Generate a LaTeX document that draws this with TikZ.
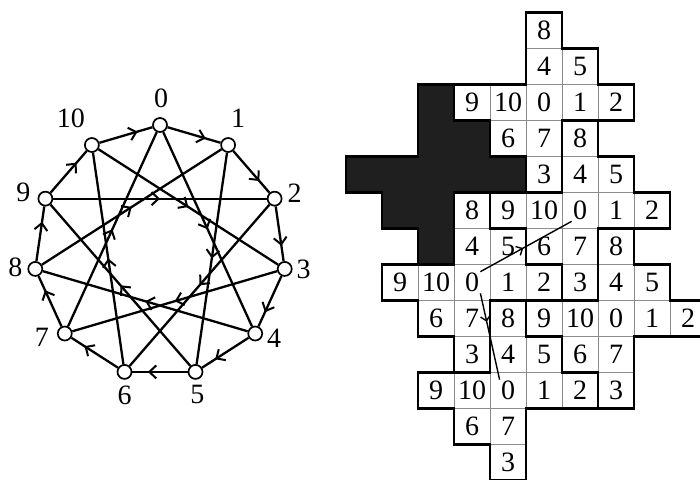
\documentclass[tikz,border=0pt]{standalone}
\usepackage{fontspec}
\setmainfont{Liberation Serif}
\usetikzlibrary{arrows.meta,decorations.markings}
\begin{document}
\begin{tikzpicture}[x=1pt,y=-1pt,
  vtx/.style={circle,draw=black,fill=white,line width=1.7pt,minimum size=14pt,inner sep=0pt},
  vlab/.style={font=\fontsize{28}{28}\selectfont,inner sep=0pt},
  glab/.style={font=\fontsize{28}{28}\selectfont,inner sep=1.2pt},
  midtip/.style={postaction={decorate},decoration={markings,mark=at position #1 with {\arrow{Straight Barb[length=7pt,width=13pt,line width=2pt]}}}},
  smalltip/.style={postaction={decorate},decoration={markings,mark=at position #1 with {\arrow{Straight Barb[length=5pt,width=10pt,line width=1.4pt]}}}},
  outeredge/.style={line width=2.3pt,midtip=0.72},
  chordedge/.style={line width=2.3pt,midtip=0.5},
  gridarrow/.style={line width=1.4pt},
  thincell/.style={draw=black!45,line width=0.8pt},
  tileline/.style={draw=black,line width=2.8pt,line join=miter}
]
\useasboundingbox (0,0) rectangle (700,479);

% ---------------- graph ----------------
\foreach \k in {0,...,10}
  \node[vtx] (v\k) at ({160+126*cos(\k*360/11-90)},{251+126*sin(\k*360/11-90)}) {};
\foreach \k in {0,...,10} {
  \pgfmathtruncatemacro\a{mod(\k+1,11)}
  \pgfmathtruncatemacro\b{mod(\k+4,11)}
  \draw[outeredge] (v\k) -- (v\a);
  \draw[chordedge] (v\k) -- (v\b);
}
\foreach \k/\dx/\dy in {0/1/-27, 1/10/-27, 2/20/-5, 3/19/0, 4/19/5, 5/2/23, 6/0/23, 7/-23/4, 8/-20/-2, 9/-22/-6, 10/-21/-27}
  \path (v\k) ++(\dx,\dy) node[vlab] (l\k) {\k};

% ---------------- grid ----------------
\begin{scope}[shift={(346pt,-12.5pt)},x=36pt,y=-36pt]
  % black tile
  \begin{scope}[shift={(2,4)}]
    \fill[black!88] (0,-2) -- (1,-2) -- (1,-1) -- (2,-1) -- (2,0) -- (3,0) -- (3,1) -- (1,1) -- (1,3) -- (0,3) -- (0,2) -- (-1,2) -- (-1,1) -- (-2,1) -- (-2,0) -- (0,0) -- cycle;
  \end{scope}
  % white tiles: fill and thin cell lines
  \foreach \r/\c in {2/5, 5/6, 7/3, 8/7, 10/4} {
    \begin{scope}[shift={(\c,\r)}]
      \fill[white] (0,-2) -- (1,-2) -- (1,-1) -- (2,-1) -- (2,0) -- (3,0) -- (3,1) -- (1,1) -- (1,3) -- (0,3) -- (0,2) -- (-1,2) -- (-1,1) -- (-2,1) -- (-2,0) -- (0,0) -- cycle;
      \foreach \dx/\dy in {0/-2, 0/-1, 1/-1, -2/0, -1/0, 0/0, 1/0, 2/0, -1/1, 0/1, 0/2}
        \draw[thincell] (\dx,\dy) rectangle ++(1,1);
    \end{scope}
  }
  % tile outlines
  \foreach \r/\c in {4/2, 2/5, 5/6, 7/3, 8/7, 10/4} {
    \begin{scope}[shift={(\c,\r)}]
      \draw[tileline] (0,-2) -- (1,-2) -- (1,-1) -- (2,-1) -- (2,0) -- (3,0) -- (3,1) -- (1,1) -- (1,3) -- (0,3) -- (0,2) -- (-1,2) -- (-1,1) -- (-2,1) -- (-2,0) -- (0,0) -- cycle;
    \end{scope}
  }
  % labels
  \foreach \r/\c in {2/5, 5/6, 7/3, 8/7, 10/4} {
    \foreach \dx/\dy/\l in {0/-2/8, 0/-1/4, 1/-1/5, -2/0/9, -1/0/10, 0/0/0, 1/0/1, 2/0/2, -1/1/6, 0/1/7, 0/2/3} {
      \pgfmathtruncatemacro\rr{\r+\dy}
      \pgfmathtruncatemacro\cc{\c+\dx}
      \node[glab] (z\rr x\cc) at (\c+\dx+0.5,\r+\dy+0.5) {\l};
    }
  }
\end{scope}
\draw[gridarrow,smalltip=0.47] (z7x3.north east) -- (z5x6.south west);
\draw[gridarrow,smalltip=0.33] (z7x3.south east) -- (z10x4.north west);
\end{tikzpicture}
\end{document}
